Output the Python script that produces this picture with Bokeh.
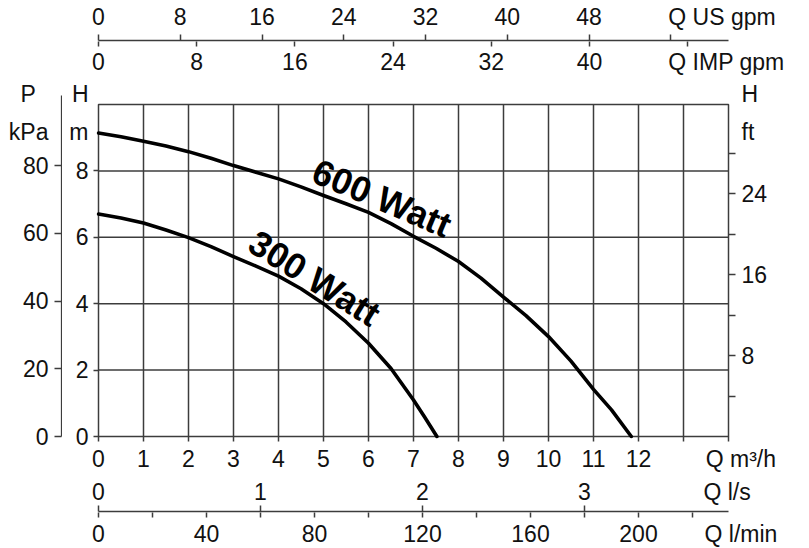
from bokeh.plotting import figure
from bokeh.layouts import column, row
from bokeh.models import Range1d, LinearAxis, FixedTicker, Label, PrintfTickFormatter
from bokeh.embed import file_html
from bokeh.resources import INLINE

# ---------------- data ----------------
q_600 = [0, 0.5, 1, 1.5, 2, 2.5, 3, 3.5, 4, 4.5, 5, 5.5, 6, 6.5, 7, 7.5, 8, 8.5, 9, 9.5, 10, 10.5, 11, 11.4, 11.84]
h_600 = [9.14, 9.03, 8.89, 8.75, 8.58, 8.38, 8.16, 7.96, 7.76, 7.52, 7.26, 7.01, 6.75, 6.41, 6.03, 5.67,
         5.27, 4.77, 4.2, 3.64, 3.01, 2.27, 1.42, 0.8, 0]
q_300 = [0, 0.5, 1, 1.5, 2, 2.5, 3, 3.5, 4, 4.5, 5, 5.5, 6, 6.5, 7, 7.25, 7.52]
h_300 = [6.70, 6.58, 6.43, 6.22, 5.99, 5.72, 5.42, 5.13, 4.83, 4.45, 4.0, 3.45, 2.81, 2.05, 1.1, 0.58, 0]

# tick marks and labelled ticks of every scale
m3h_marks = list(range(0, 15))
m3h_labeled = list(range(0, 13))
h_m_ticks = [0, 2, 4, 6, 8]
p_kpa_ticks = [0, 20, 40, 60, 80]
h_ft_marks = [4, 8, 12, 16, 20, 24, 28]
h_ft_labeled = [8, 16, 24]
us_gpm_marks = [0, 8, 16, 24, 32, 40, 48, 56]
us_gpm_labeled = [0, 8, 16, 24, 32, 40, 48]
imp_gpm_marks = [0, 8, 16, 24, 32, 40, 48]
imp_gpm_labeled = [0, 8, 16, 24, 32, 40]
ls_ticks = [0, 1, 2, 3]
lmin_marks = list(range(0, 221, 20))
lmin_labeled = [0, 40, 80, 120, 160, 200]

Q_MAX = 14
H_MAX = 10
US_PER_M3H = 4.402868
IMP_PER_M3H = 3.666154
LS_PER_M3H = 1 / 3.6
LMIN_PER_M3H = 1000 / 60
KPA_PER_M = 9.80665
FT_PER_M = 3.28084

# ---------------- style / placement ----------------
FONT = "Liberation Sans"
TICK_FS = "23px"
INK = "#3c3c3c"
TXT = "#111111"
LW = 1.5
PAD = "\u00a0" * 4          # keeps a unit text's left edge where the reference has it

PX_PER_Q = 45.0             # 630 px for 14 m3/h
PX_PER_H = 33.2             # 332 px for 10 m
LEFT_PX, RIGHT_PX = 98, 81  # canvas space left / right of the chart box
STRIP_RANGE = (-LEFT_PX / PX_PER_Q, Q_MAX + RIGHT_PX / PX_PER_Q)
Q_VIEW = (-2 / PX_PER_Q, Q_MAX + 2 / PX_PER_Q)          # 2 px around the chart box
H_VIEW = (-2 / PX_PER_H, H_MAX + 27 / PX_PER_H)         # room above the box for the axis titles
P_LINE_TOP_H = 10.27                                    # the P axis line reaches a bit above the box

# where the unit names / axis titles sit (in the units of their scale)
UNIT_ROW_H = 9.18            # m  -> row of "m" / "kPa" / "ft"
TITLE_ROW_H = 10.33          # m  -> row of "P" / "H" / "H"
US_UNIT_AT = 61.0
IMP_UNIT_AT = 51.16
M3H_UNIT_AT = 13.99
LS_UNIT_AT = 3.88
LMIN_UNIT_AT = 233.2


def scale_axis(ax, marks, labeled, overrides, mark_out=5, mark_in=0, standoff=4, line=False, bounds=None):
    """Tick marks are drawn as minor ticks, labels sit on (mark-less) major ticks."""
    ax.ticker = FixedTicker(ticks=labeled + list(overrides), minor_ticks=marks)
    ax.formatter = PrintfTickFormatter(format="%d")
    ax.major_label_overrides = dict(overrides)
    if bounds is not None:
        ax.bounds = bounds
    ax.axis_line_color = INK if line else None
    ax.axis_line_width = LW
    ax.major_tick_line_color = None
    ax.major_tick_out = 0
    ax.major_tick_in = 0
    ax.minor_tick_line_color = INK
    ax.minor_tick_line_width = LW
    ax.minor_tick_out = mark_out
    ax.minor_tick_in = mark_in
    ax.major_label_standoff = standoff
    ax.major_label_text_font = FONT
    ax.major_label_text_font_size = TICK_FS
    ax.major_label_text_color = TXT


def blank(fig):
    fig.grid.visible = False
    fig.outline_line_color = None
    fig.background_fill_color = "white"
    fig.border_fill_color = "white"


COMMON = dict(output_backend="svg", toolbar_location=None, title=None)

# ---------------- top strip: Q US gpm / Q IMP gpm ----------------
top = figure(x_range=Range1d(*STRIP_RANGE), y_range=Range1d(0, 1), frame_width=809, frame_height=1,
             min_border_left=0, min_border_right=0, min_border_top=40, min_border_bottom=35,
             x_axis_location=None, y_axis_location=None, **COMMON)
blank(top)
top.extra_x_ranges = {
    "us": Range1d(STRIP_RANGE[0] * US_PER_M3H, STRIP_RANGE[1] * US_PER_M3H),
    "imp": Range1d(STRIP_RANGE[0] * IMP_PER_M3H, STRIP_RANGE[1] * IMP_PER_M3H),
}
us_axis = LinearAxis(x_range_name="us")
scale_axis(us_axis, us_gpm_marks, us_gpm_labeled, {US_UNIT_AT: "Q US gpm"}, mark_out=6, standoff=5,
           line=True, bounds=(0, Q_MAX * US_PER_M3H))
top.add_layout(us_axis, "above")
imp_axis = LinearAxis(x_range_name="imp")
scale_axis(imp_axis, imp_gpm_marks, imp_gpm_labeled, {IMP_UNIT_AT: "Q IMP gpm"}, mark_out=5, standoff=2,
           bounds=(0, Q_MAX * IMP_PER_M3H))
top.add_layout(imp_axis, "below")

# ---------------- left strip: P kPa ----------------
left = figure(x_range=Range1d(-1, 1), y_range=Range1d(H_VIEW[0] * KPA_PER_M, H_VIEW[1] * KPA_PER_M),
              frame_width=2, frame_height=361,
              min_border_left=60, min_border_right=0, min_border_top=0, min_border_bottom=37,
              x_axis_location=None, y_axis_location="left", **COMMON)
blank(left)
scale_axis(left.yaxis[0], p_kpa_ticks, p_kpa_ticks,
           {UNIT_ROW_H * KPA_PER_M: "kPa", TITLE_ROW_H * KPA_PER_M: "P" + "\u00a0" * 2},
           mark_out=6, mark_in=1, standoff=6)
left.segment(x0=[0], y0=[0], x1=[0], y1=[P_LINE_TOP_H * KPA_PER_M], line_color=INK, line_width=LW)

# ---------------- main chart ----------------
p = figure(x_range=Range1d(*Q_VIEW), y_range=Range1d(*H_VIEW), frame_width=634, frame_height=361,
           min_border_left=34, min_border_right=79, min_border_top=0, min_border_bottom=37, **COMMON)
blank(p)
p.extra_y_ranges = {"ft": Range1d(H_VIEW[0] * FT_PER_M, H_VIEW[1] * FT_PER_M)}

scale_axis(p.xaxis[0], m3h_marks, m3h_labeled, {M3H_UNIT_AT: PAD + "Q m³/h"}, mark_out=3, mark_in=2,
           standoff=4)
scale_axis(p.yaxis[0], h_m_ticks, h_m_ticks, {UNIT_ROW_H: "m", TITLE_ROW_H: "H"}, mark_out=3, mark_in=2,
           standoff=5)
fta = LinearAxis(y_range_name="ft")
scale_axis(fta, h_ft_marks, h_ft_labeled, {UNIT_ROW_H * FT_PER_M: "ft", TITLE_ROW_H * FT_PER_M: "H"},
           mark_out=5, mark_in=2, standoff=6)
p.add_layout(fta, "right")

# chart box and grid (0..14 m3/h, 0..10 m)
grid_q = m3h_marks[1:-1]
grid_h = h_m_ticks[1:]
p.segment(x0=grid_q, y0=[0] * len(grid_q), x1=grid_q, y1=[H_MAX] * len(grid_q), line_color=INK, line_width=LW)
p.segment(x0=[0] * len(grid_h), y0=grid_h, x1=[Q_MAX] * len(grid_h), y1=grid_h, line_color=INK, line_width=LW)
p.quad(left=[0], right=[Q_MAX], bottom=[0], top=[H_MAX], fill_color=None, line_color=INK, line_width=LW)

p.line(q_600, h_600, line_color="black", line_width=3.6, line_join="round", line_cap="round")
p.line(q_300, h_300, line_color="black", line_width=3.6, line_join="round", line_cap="round")

p.add_layout(Label(x=6.30, y=7.18, text="600 Watt", angle=-23, angle_units="deg",
                   text_align="center", text_baseline="middle", text_font=FONT,
                   text_font_style="bold", text_font_size="36px", text_color="black"))
p.add_layout(Label(x=4.80, y=4.77, text="300 Watt", angle=-32, angle_units="deg",
                   text_align="center", text_baseline="middle", text_font=FONT,
                   text_font_style="bold", text_font_size="36px", text_color="black"))

# ---------------- bottom strip: Q l/s / Q l/min ----------------
bot = figure(x_range=Range1d(*STRIP_RANGE), y_range=Range1d(0, 1), frame_width=809, frame_height=1,
             min_border_left=0, min_border_right=0, min_border_top=34, min_border_bottom=36,
             x_axis_location=None, y_axis_location=None, **COMMON)
blank(bot)
bot.extra_x_ranges = {
    "ls": Range1d(STRIP_RANGE[0] * LS_PER_M3H, STRIP_RANGE[1] * LS_PER_M3H),
    "lmin": Range1d(STRIP_RANGE[0] * LMIN_PER_M3H, STRIP_RANGE[1] * LMIN_PER_M3H),
}
ls_axis = LinearAxis(x_range_name="ls")
scale_axis(ls_axis, ls_ticks, ls_ticks, {LS_UNIT_AT: "Q l/s"}, mark_out=6, standoff=1,
           line=True, bounds=(0, Q_MAX * LS_PER_M3H))
bot.add_layout(ls_axis, "above")
lmin_axis = LinearAxis(x_range_name="lmin")
scale_axis(lmin_axis, lmin_marks, lmin_labeled, {LMIN_UNIT_AT: PAD + "Q l/min"}, mark_out=5, standoff=3,
           bounds=(0, Q_MAX * LMIN_PER_M3H))
bot.add_layout(lmin_axis, "below")

layout = column(top, row(left, p), bot)
open("out.html", "w").write(file_html(layout, INLINE, "Pump curves"))
